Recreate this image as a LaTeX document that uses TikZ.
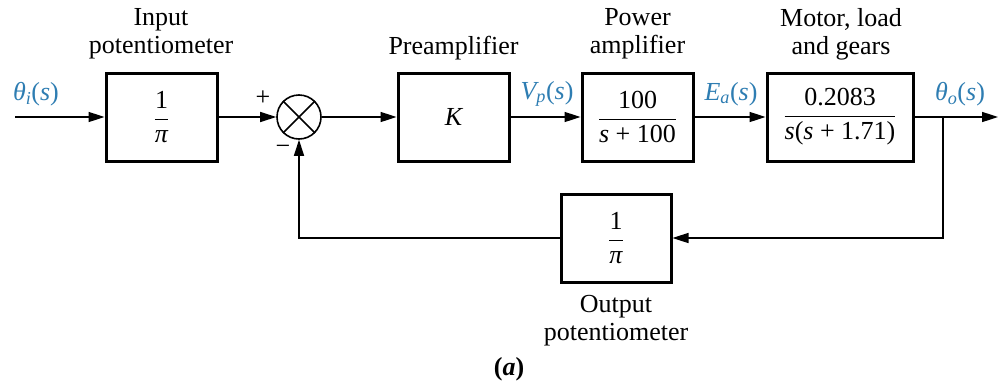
\documentclass[tikz,border=0pt]{standalone}
\usepackage{fontspec}
\setmainfont{Liberation Serif}
\usepackage{amsmath}
\usetikzlibrary{arrows.meta}
\definecolor{sigc}{RGB}{46,125,178}
\newcommand\ii[1]{\text{\itshape #1}}
\newcommand\up[1]{\text{\upshape #1}}
\begin{document}
\begin{tikzpicture}[x=1pt,y=-1pt,
  every node/.style={font=\fontsize{26}{28}\selectfont},
  blk/.style={draw, line width=3pt, minimum width=111pt, minimum height=88pt, inner sep=0pt},
  conn/.style={line width=1.6pt},
  arr/.style={conn, -{Triangle[length=16pt,width=10pt]}},
  sig/.style={text=sigc},
  lbl/.style={align=center}]
\useasboundingbox (0,0) rectangle (999,383);
% blocks
\node[blk] (inpot) at (161.5,117) {$\dfrac{\up{1}}{\ii{π}}$};
\node[circle, draw, line width=1.6pt, minimum size=44pt, inner sep=0pt] (sum) at (299,117) {};
\draw[conn] (sum.north west) -- (sum.south east);
\draw[conn] (sum.north east) -- (sum.south west);
\node[blk] (pre) at (453.5,117) {$\ii{K}$};
\node[blk] (pa) at (637.5,117) {$\dfrac{\up{100}}{\ii{s}\up{ + 100}}$};
\node[blk, minimum width=146pt] (mot) at (840,117) {$\dfrac{\up{0.2083}}{\ii{s}\up{(}\ii{s}\up{ + 1.71)}}$};
\node[blk, minimum width=110pt] (outpot) at (616,238) {$\dfrac{\up{1}}{\ii{π}}$};
% block captions
\node[lbl] (lin) at (161,34) {Input\\potentiometer};
\node[lbl] (lpre) at (453.5,48) {Preamplifier};
\node[lbl] (lpa) at (637.5,34) {Power\\amplifier};
\node[lbl] (lmot) at (841,34) {Motor, load\\and gears};
\node[lbl] (lout) at (616,321) {Output\\potentiometer};
\node (cap) at (509,369) {\textbf{(\textit{a})}};
% signals
\node[sig] (thi) at (36,94) {$\ii{θ}_{\ii{i}}\up{(}\ii{s}\up{)}$};
\node[sig] (vp) at (547,94) {$\ii{V}_{\ii{p}}\up{(}\ii{s}\up{)}$};
\node[sig] (ea) at (731,94) {$\ii{E}_{\ii{a}}\up{(}\ii{s}\up{)}$};
\node[sig] (tho) at (960,94) {$\ii{θ}_{\ii{o}}\up{(}\ii{s}\up{)}$};
\node (plus) at (263,98) {+};
\node (minus) at (283,150) {−};
% connectors
\coordinate (in) at (15,117);
\coordinate (tap) at (943,117);
\coordinate (out) at (998,117);
\draw[arr] (in) -- (inpot);
\draw[arr] (inpot) -- (sum);
\draw[arr] (sum) -- (pre);
\draw[arr] (pre) -- (pa);
\draw[arr] (pa) -- (mot);
\draw[arr] (mot) -- (out);
\draw[arr] (tap) |- (outpot);
\draw[arr] (outpot) -| (sum);
\end{tikzpicture}
\end{document}
